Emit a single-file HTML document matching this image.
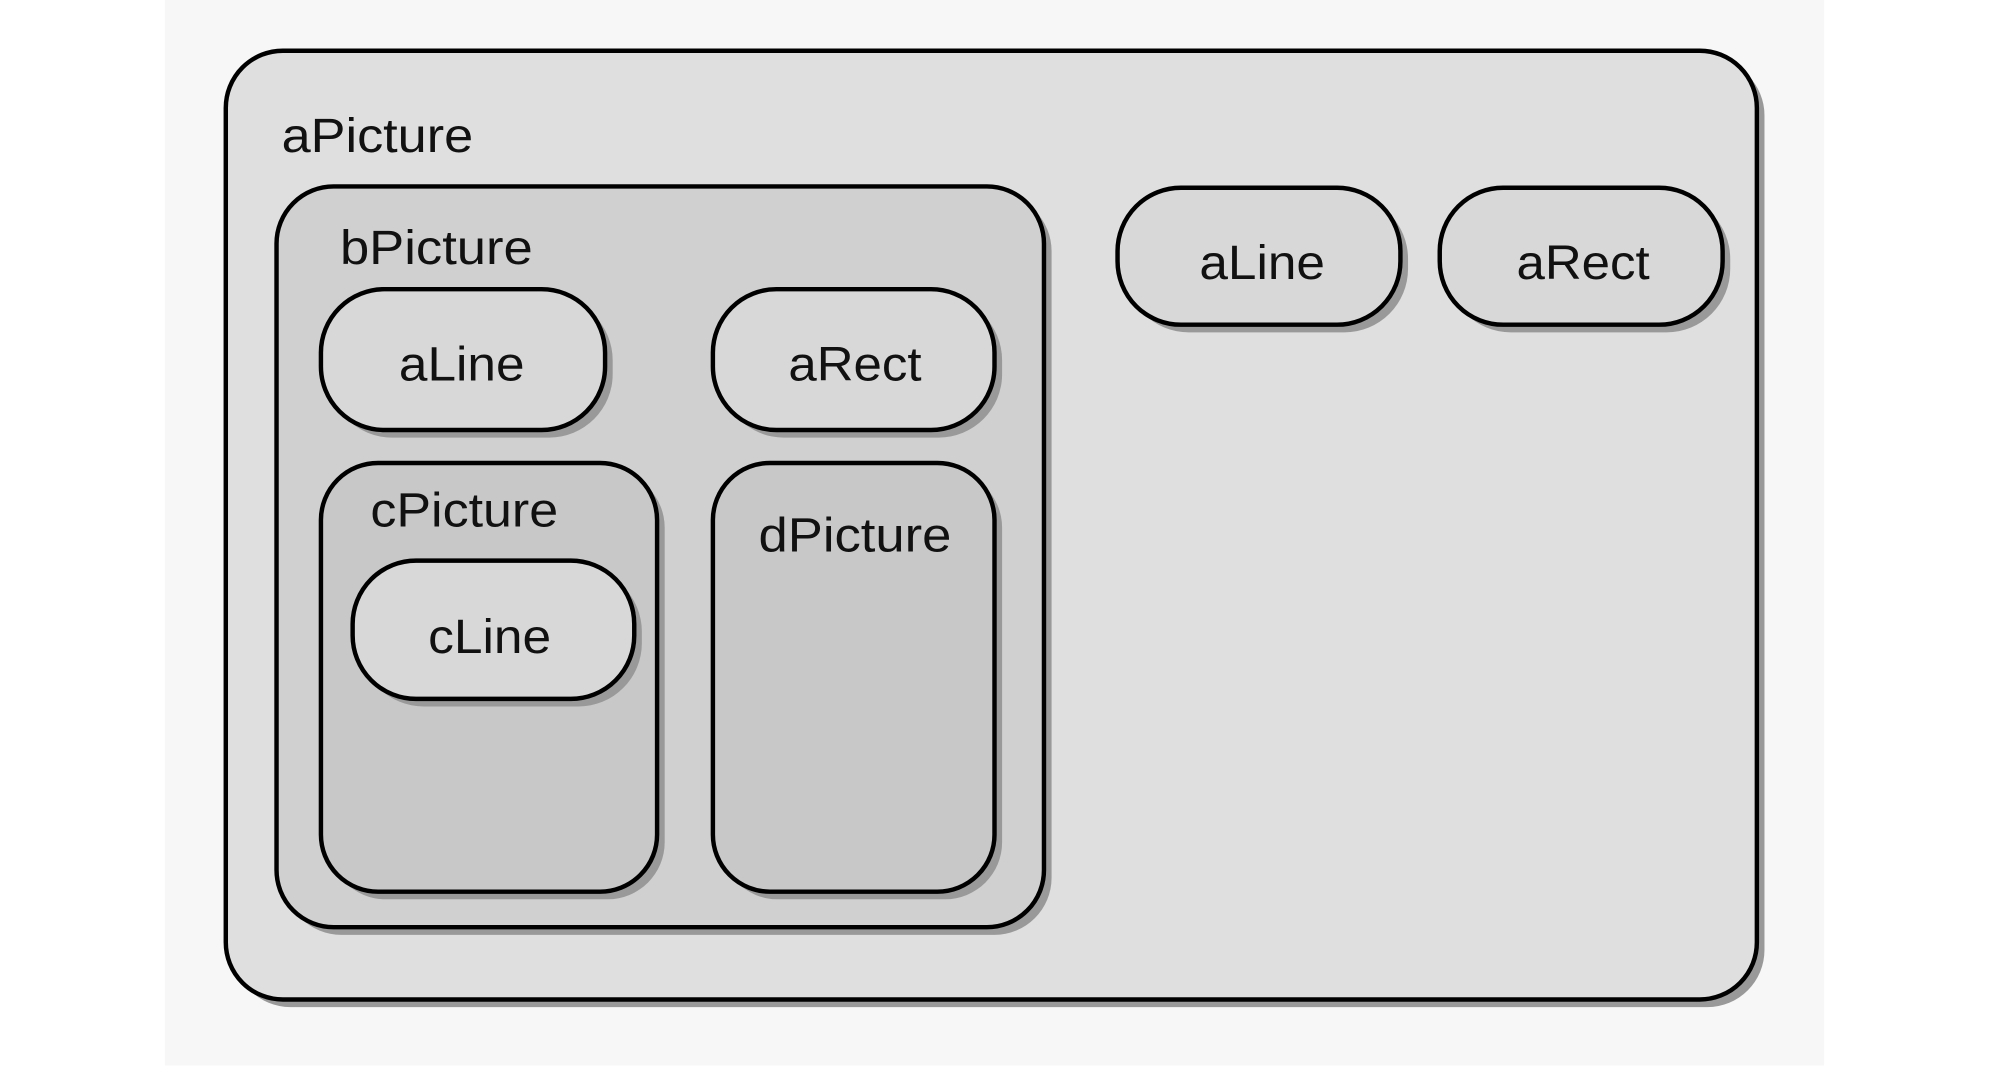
<!DOCTYPE html>
<html><head><meta charset="utf-8"><style>
html,body{margin:0;padding:0;background:#fff;width:1989px;height:1068px;overflow:hidden}
svg{display:block}
text{font-family:"Liberation Sans",sans-serif;font-size:38px;fill:#111}
</style></head><body>
<svg width="1989" height="1068" viewBox="0 0 1568 842" preserveAspectRatio="none">
<rect x="130" y="0" width="1308" height="840" fill="#f7f7f7"/>
<g>
<rect x="184" y="46" width="1207" height="748" rx="45" fill="#999"/>
<rect x="178" y="40" width="1207" height="748" rx="45" fill="#dfdfdf" stroke="#000" stroke-width="3.5"/>
<text x="222" y="120" textLength="151" lengthAdjust="spacingAndGlyphs">aPicture</text>
</g>
<g>
<rect x="224" y="153" width="605" height="584" rx="45" fill="#999"/>
<rect x="218" y="147" width="605" height="584" rx="45" fill="#d0d0d0" stroke="#000" stroke-width="3.5"/>
<text x="268" y="208" textLength="152" lengthAdjust="spacingAndGlyphs">bPicture</text>
</g>
<g>
<rect x="259" y="234" width="224" height="111" rx="50" fill="#999"/>
<rect x="253" y="228" width="224" height="111" rx="50" fill="#d8d8d8" stroke="#000" stroke-width="3.5"/>
<text x="364" y="300" text-anchor="middle" textLength="99" lengthAdjust="spacingAndGlyphs">aLine</text>
</g>
<g>
<rect x="568" y="234" width="222" height="111" rx="50" fill="#999"/>
<rect x="562" y="228" width="222" height="111" rx="50" fill="#d8d8d8" stroke="#000" stroke-width="3.5"/>
<text x="674" y="300" text-anchor="middle" textLength="105" lengthAdjust="spacingAndGlyphs">aRect</text>
</g>
<g>
<rect x="259" y="371" width="265" height="338" rx="45" fill="#999"/>
<rect x="253" y="365" width="265" height="338" rx="45" fill="#c8c8c8" stroke="#000" stroke-width="3.5"/>
<text x="292" y="415" textLength="148" lengthAdjust="spacingAndGlyphs">cPicture</text>
</g>
<g>
<rect x="284" y="448" width="222" height="109" rx="50" fill="#999"/>
<rect x="278" y="442" width="222" height="109" rx="50" fill="#d8d8d8" stroke="#000" stroke-width="3.5"/>
<text x="386" y="515" text-anchor="middle" textLength="97" lengthAdjust="spacingAndGlyphs">cLine</text>
</g>
<g>
<rect x="568" y="371" width="222" height="338" rx="45" fill="#999"/>
<rect x="562" y="365" width="222" height="338" rx="45" fill="#c8c8c8" stroke="#000" stroke-width="3.5"/>
<text x="674" y="435" text-anchor="middle" textLength="152" lengthAdjust="spacingAndGlyphs">dPicture</text>
</g>
<g>
<rect x="887" y="154" width="223" height="108" rx="50" fill="#999"/>
<rect x="881" y="148" width="223" height="108" rx="50" fill="#d8d8d8" stroke="#000" stroke-width="3.5"/>
<text x="995" y="220" text-anchor="middle" textLength="99" lengthAdjust="spacingAndGlyphs">aLine</text>
</g>
<g>
<rect x="1141" y="154" width="223" height="108" rx="50" fill="#999"/>
<rect x="1135" y="148" width="223" height="108" rx="50" fill="#d8d8d8" stroke="#000" stroke-width="3.5"/>
<text x="1248" y="220" text-anchor="middle" textLength="105" lengthAdjust="spacingAndGlyphs">aRect</text>
</g>
</svg>
</body></html>
